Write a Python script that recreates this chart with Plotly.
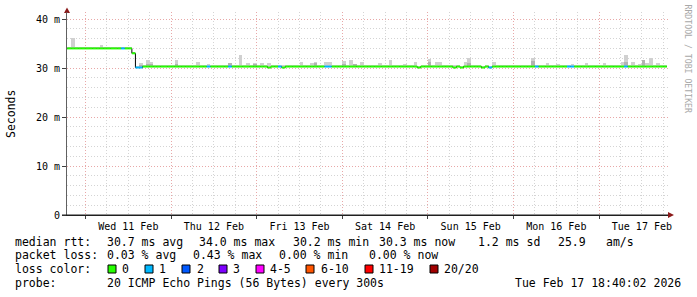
import plotly.graph_objects as go
import pandas as pd

# ------------------------------------------------------------------ data
first_step = "2026-02-10 18:00"      # start of first hourly consolidation step
n_steps = 169

median_rtt_ms = [
    34.0, 34.0, 34.0, 34.0, 34.0, 34.0, 34.0, 34.0, 34.0, 34.0, 34.0, 34.0,
    34.0, 34.0, 34.0, 34.0, 34.0, 34.0, 34.0, 33.0, 30.1, 30.1, 30.3, 30.3,
    30.3, 30.3, 30.3, 30.3, 30.3, 30.3, 30.3, 30.3, 30.3, 30.3, 30.3, 30.3,
    30.3, 30.3, 30.3, 30.3, 30.3, 30.3, 30.3, 30.3, 30.3, 30.3, 30.3, 30.3,
    30.3, 30.3, 30.3, 30.3, 30.3, 30.3, 30.3, 30.3, 30.3, 30.1, 30.3, 30.3,
    30.3, 30.1, 30.3, 30.3, 30.3, 30.3, 30.3, 30.3, 30.3, 30.3, 30.3, 30.3,
    30.3, 30.3, 30.3, 30.3, 30.3, 30.3, 30.3, 30.3, 30.3, 30.3, 30.3, 30.3,
    30.3, 30.3, 30.3, 30.3, 30.3, 30.3, 30.3, 30.3, 30.3, 30.3, 30.3, 30.3,
    30.3, 30.3, 30.3, 30.1, 30.3, 30.3, 30.3, 30.3, 30.3, 30.3, 30.3, 30.3,
    30.3, 30.1, 30.3, 30.1, 30.3, 30.3, 30.3, 30.3, 30.3, 30.1, 30.3, 30.1,
    30.3, 30.3, 30.3, 30.3, 30.3, 30.3, 30.3, 30.3, 30.3, 30.3, 30.3, 30.3,
    30.3, 30.3, 30.3, 30.3, 30.3, 30.3, 30.3, 30.3, 30.3, 30.3, 30.3, 30.3,
    30.3, 30.3, 30.3, 30.3, 30.3, 30.3, 30.3, 30.3, 30.3, 30.3, 30.3, 30.3,
    30.3, 30.3, 30.3, 30.3, 30.3, 30.3, 30.3, 30.3, 30.3, 30.3, 30.3, 30.3,
    30.3,
]

lost_pings = [
    0, 0, 0, 0, 0, 0, 0, 0, 0, 0, 0, 0,
    0, 0, 0, 0, 1, 0, 0, 0, 1, 1, 0, 0,
    0, 0, 0, 0, 0, 0, 0, 0, 0, 0, 0, 0,
    0, 0, 0, 0, 1, 0, 0, 0, 0, 0, 1, 0,
    0, 0, 0, 0, 0, 0, 0, 0, 0, 0, 0, 0,
    1, 0, 0, 0, 0, 0, 0, 0, 0, 0, 0, 0,
    0, 1, 1, 0, 0, 0, 0, 0, 0, 0, 0, 0,
    0, 0, 0, 0, 0, 0, 0, 0, 0, 0, 0, 0,
    0, 0, 0, 0, 0, 0, 0, 0, 0, 0, 0, 0,
    0, 0, 0, 0, 0, 0, 0, 0, 0, 0, 0, 1,
    0, 0, 0, 0, 0, 0, 0, 0, 0, 0, 0, 0,
    1, 0, 0, 0, 0, 0, 0, 0, 0, 1, 1, 0,
    0, 0, 0, 0, 0, 0, 0, 0, 0, 0, 0, 0,
    0, 1, 0, 0, 0, 0, 0, 0, 0, 0, 0, 0,
    0,
]

smoke_top_ms = [
    34.1, 34.3, 36.1, 34.1, 34.1, 34.1, 34.1, 34.1, 34.1, 34.1, 34.75, 34.1,
    34.1, 34.1, 34.1, 34.3, 34.1, 34.1, 34.1, 33.3, 30.3, 31.1, 30.45, 31.6,
    31.2, 30.45, 30.45, 30.45, 30.45, 30.6, 30.6, 31.6, 30.6, 30.6, 30.6, 30.45,
    30.45, 31.2, 30.45, 30.45, 30.8, 30.45, 30.45, 30.45, 30.45, 30.45, 31.0, 30.45,
    30.45, 32.6, 30.45, 31.0, 30.45, 31.0, 30.45, 31.0, 30.45, 31.0, 30.45, 30.45,
    30.45, 30.6, 30.6, 30.6, 30.45, 30.6, 31.2, 30.45, 30.45, 31.0, 31.2, 30.45,
    30.45, 31.2, 31.2, 30.45, 30.45, 30.45, 31.4, 30.45, 31.6, 30.9, 30.7, 31.2,
    30.45, 30.45, 30.45, 30.6, 31.0, 30.6, 30.45, 31.6, 30.45, 30.45, 30.6, 30.9,
    30.45, 30.45, 31.2, 30.3, 30.45, 30.45, 31.8, 30.45, 31.2, 31.2, 30.6, 30.45,
    30.45, 30.6, 30.45, 30.3, 31.2, 32.0, 30.45, 30.45, 30.45, 30.3, 30.45, 30.3,
    31.2, 30.45, 30.45, 30.6, 30.6, 30.6, 30.6, 30.6, 30.6, 30.45, 30.45, 32.0,
    30.45, 30.45, 30.45, 31.0, 30.45, 30.45, 30.9, 30.45, 30.45, 30.45, 30.9, 30.45,
    30.45, 30.45, 31.0, 30.45, 30.45, 30.45, 30.45, 31.0, 30.45, 30.45, 30.6, 30.45,
    31.2, 32.6, 30.45, 31.2, 30.45, 30.9, 31.6, 31.0, 32.0, 30.45, 31.0, 30.45,
    30.45,
]

# darker inner smoke (step index, upper value in ms)
smoke_core_step = [19, 21, 23, 24, 31, 46, 53, 70, 78, 81, 102, 113, 131, 157, 162]
smoke_core_ms = [33.2, 30.6, 30.9, 30.8, 30.8, 31.0, 30.8, 31.0, 30.8, 30.9, 31.3, 31.0, 31.4, 31.2, 31.6]

loss_labels = ["0", "1", "2", "3", "4-5", "6-10", "11-19", "20/20"]
loss_colors = ["#26ff00", "#00b8ff", "#0059ff", "#7e00ff", "#ff00ff", "#ff5500", "#ff0000", "#a10000"]
loss_levels = [0, 1, 2, 3, 5, 10, 19, 20]

y_tick_vals = [0, 10, 20, 30, 40]
y_tick_text = ["0", "10 m", "20 m", "30 m", "40 m"]

stats_rtt = ["median rtt:", "30.7 ms avg", "34.0 ms max", "30.2 ms min", "30.3 ms now", "1.2 ms sd", "25.9", "am/s"]
stats_loss = ["packet loss:", "0.03 % avg", "0.43 % max", "0.00 % min", "0.00 % now"]
probe_text = ["probe:", "20 ICMP Echo Pings (56 Bytes) every 300s"]
stamp_text = "Tue Feb 17 18:40:02 2026"
watermark = "RRDTOOL / TOBI OETIKER"

# ------------------------------------------------------------------ layout geometry
W, H = 697, 297
PL, PR, PT, PB = 67, 668, 12, 215
MONO = "DejaVu Sans Mono"


def ax(px):
    return (px - PL) / (PR - PL)


def ay(py):
    return (PB - py) / (PB - PT)


times = pd.date_range(first_step, periods=n_steps, freq="h")
step = pd.Timedelta(hours=1)
half = pd.Timedelta(minutes=30)

fig = go.Figure()

# smoke (light)
fig.add_trace(go.Bar(
    x=[t + half for t in times],
    y=[max(top - m, 0) for top, m in zip(smoke_top_ms, median_rtt_ms)],
    base=median_rtt_ms,
    width=3600 * 1000,
    marker=dict(color="#d0d0d0", line=dict(width=0)),
    hoverinfo="skip",
))
# smoke (dark core)
fig.add_trace(go.Bar(
    x=[times[j] + half for j in smoke_core_step],
    y=[v - median_rtt_ms[j] for j, v in zip(smoke_core_step, smoke_core_ms)],
    base=[median_rtt_ms[j] for j in smoke_core_step],
    width=3600 * 1000,
    marker=dict(color="#b2b2b2", line=dict(width=0)),
    hoverinfo="skip",
))

# thin dark median line (shows vertical transitions)
fig.add_trace(go.Scatter(
    x=list(times) + [times[-1] + step],
    y=median_rtt_ms + [median_rtt_ms[-1]],
    mode="lines", line=dict(color="#000000", width=1, shape="hv"),
    hoverinfo="skip",
))


def loss_index(v):
    for k, lv in enumerate(loss_levels):
        if v <= lv:
            return k
    return len(loss_levels) - 1


for k, col in enumerate(loss_colors):
    xs, ys = [], []
    for j in range(n_steps):
        if loss_index(lost_pings[j]) == k:
            xs += [times[j], times[j] + step, None]
            ys += [median_rtt_ms[j], median_rtt_ms[j], None]
    if xs:
        fig.add_trace(go.Scatter(x=xs, y=ys, mode="lines",
                                 line=dict(color=col, width=2),
                                 hoverinfo="skip"))

grid_minor = "#d4d4d4"
grid_major = "#e8a8a8"

fig.update_layout(
    width=W, height=H,
    margin=dict(l=PL, r=W - PR, t=PT, b=H - PB),
    paper_bgcolor="white", plot_bgcolor="white",
    showlegend=False, barmode="overlay", bargap=0,
    font=dict(family=MONO, color="#000000"),
    xaxis=dict(
        type="date",
        range=["2026-02-10 18:48:48", "2026-02-17 19:19:00"],
        tick0="2026-02-11 00:00", dtick=86400000,
        ticklabelmode="period", tickformat="%a %d %b",
        tickfont=dict(family=MONO, size=10, color="#000000"),
        ticks="outside", ticklen=3, tickcolor="#404040",
        ticklabelstandoff=-1,
        showgrid=True, gridcolor=grid_major, griddash="1px,2px", gridwidth=1,
        minor=dict(dtick=6 * 3600000, showgrid=True, gridcolor=grid_minor,
                   griddash="1px,2px", ticks=""),
        showline=True, linecolor="#202020", linewidth=1,
        zeroline=False, fixedrange=True,
    ),
    yaxis=dict(
        range=[0, 41.43],
        tickmode="array", tickvals=y_tick_vals, ticktext=y_tick_text,
        tickfont=dict(family=MONO, size=10, color="#000000"),
        ticks="outside", ticklen=4, tickcolor="#404040",
        showgrid=True, gridcolor=grid_major, griddash="1px,2px", gridwidth=1,
        minor=dict(dtick=2, showgrid=True, gridcolor=grid_minor,
                   griddash="1px,2px", ticks=""),
        showline=True, linecolor="#606060", linewidth=1,
        zeroline=False, fixedrange=True,
    ),
)

shapes = []
# y-axis arrow
shapes.append(dict(type="path", xref="paper", yref="paper",
                   path=f"M {ax(64)} {ay(13)} L {ax(70)} {ay(13)} L {ax(67)} {ay(7.5)} Z",
                   fillcolor="#8b1a1a", line=dict(width=0)))
shapes.append(dict(type="line", xref="paper", yref="paper",
                   x0=ax(67), x1=ax(67), y0=ay(12), y1=ay(13),
                   line=dict(color="#606060", width=1)))
# x-axis arrow
shapes.append(dict(type="line", xref="paper", yref="paper",
                   x0=ax(62), x1=ax(669), y0=ay(215), y1=ay(215),
                   line=dict(color="#202020", width=1)))
shapes.append(dict(type="path", xref="paper", yref="paper",
                   path=f"M {ax(668)} {ay(212)} L {ax(668)} {ay(218)} L {ax(674)} {ay(215)} Z",
                   fillcolor="#8b1a1a", line=dict(width=0)))

annotations = []


def text(t, px, py, size=11.5, anchor="left", color="#000000", angle=0):
    annotations.append(dict(text=t, x=ax(px), y=ay(py), xref="paper", yref="paper",
                            xanchor=anchor, yanchor="middle", showarrow=False,
                            borderpad=0, borderwidth=0, textangle=angle,
                            font=dict(family=MONO, size=size, color=color)))


# axis title and watermark
text("Seconds", 11, 114, size=11.5, anchor="center", angle=-90)
text(watermark, 687.5, 59, size=8.2, anchor="center", color="#a8a8a8", angle=90)

# legend line 1
rtt_x = [15, 106.5, 199, 292.5, 379, 478, 557.5, 606]
for t, px in zip(stats_rtt, rtt_x):
    text(t, px, 241.7)
# legend line 2
loss_x = [15, 106.5, 193, 278.5, 368.5]
for t, px in zip(stats_loss, loss_x):
    text(t, px, 255.2)
# legend line 3 (loss colours)
text("loss color:", 15, 269)
box_x = [108, 145, 182, 219, 256, 306, 365, 430]
label_x = [122, 159, 196.5, 233, 270, 321, 379, 444]
for lab, col, bx, lx in zip(loss_labels, loss_colors, box_x, label_x):
    shapes.append(dict(type="rect", xref="paper", yref="paper",
                       x0=ax(bx), x1=ax(bx + 8), y0=ay(265), y1=ay(273),
                       fillcolor=col, line=dict(color="#000000", width=1)))
    text(lab, lx, 269)
# legend line 4
text(probe_text[0], 15, 282.8)
text(probe_text[1], 106.5, 282.8)
text(stamp_text, 681, 282.8, anchor="right")

fig.update_layout(shapes=shapes, annotations=annotations)
fig.write_html("out.html")
